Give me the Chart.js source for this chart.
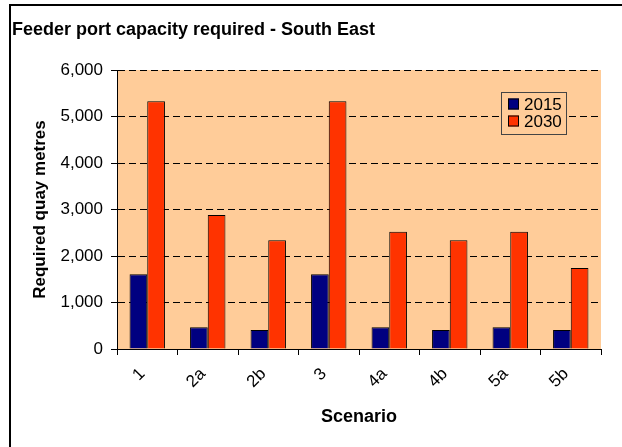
<!DOCTYPE html>
<html>
<head>
<meta charset="utf-8">
<script src="https://cdn.jsdelivr.net/npm/chart.js@4.4.1/dist/chart.umd.min.js"></script>
<style>
  html, body { margin: 0; padding: 0; background: #fff; }
  #wrap { width: 622px; height: 447px; position: relative; }
</style>
</head>
<body>
<div id="wrap"><canvas id="chart" width="622" height="447"></canvas></div>
<script>
// Required quay length (metres) per scenario
const scenarios = ['1', '2a', '2b', '3', '4a', '4b', '5a', '5b'];
const quay2015 = [1610, 470, 410, 1610, 470, 410, 470, 410];
const quay2030 = [5330, 2880, 2340, 5330, 2520, 2340, 2520, 1740];
const seriesNames = ['2015', '2030'];
const yMax = 6000;
const yStep = 1000;

const FONT = "'Liberation Sans', Arial, Helvetica, sans-serif";
const PLOT_BG = '#FFCC99';

// White page, peach plot area and the outer frame lines
const plotBackground = {
  id: 'plotBackground',
  beforeDraw(chart) {
    const { ctx, chartArea: a } = chart;
    ctx.save();
    ctx.fillStyle = '#ffffff';
    ctx.fillRect(0, 0, chart.width, chart.height);
    ctx.fillStyle = PLOT_BG;
    ctx.fillRect(a.left, a.top, a.right - a.left, a.bottom - a.top);
    ctx.strokeStyle = '#000';
    ctx.lineWidth = 2;
    ctx.beginPath();
    ctx.moveTo(10, chart.height);
    ctx.lineTo(10, 5);
    ctx.lineTo(chart.width, 5);
    ctx.stroke();
    ctx.restore();
  }
};

// Boxed legend placed inside the plot area, top right
const insideLegend = {
  id: 'insideLegend',
  afterDraw(chart) {
    const { ctx, chartArea: a } = chart;
    const boxW = 65, boxH = 42;
    const x = a.right - 35 - boxW;
    const y = a.top + 22;
    ctx.save();
    ctx.fillStyle = PLOT_BG;
    ctx.fillRect(x, y, boxW, boxH);
    ctx.strokeStyle = '#444';
    ctx.lineWidth = 1;
    ctx.strokeRect(x + 0.5, y + 0.5, boxW, boxH);
    ctx.font = '17px ' + FONT;
    ctx.textBaseline = 'middle';
    ctx.textAlign = 'left';
    chart.data.datasets.forEach((ds, i) => {
      const cy = y + 12 + i * 17;
      ctx.fillStyle = ds.backgroundColor;
      ctx.fillRect(x + 7, cy - 5.5, 11, 11);
      ctx.strokeStyle = '#000';
      ctx.strokeRect(x + 7.5, cy - 5, 10, 10);
      ctx.fillStyle = '#000';
      ctx.fillText(ds.label, x + 23, cy + 1);
    });
    ctx.restore();
  }
};

new Chart(document.getElementById('chart'), {
  type: 'bar',
  data: {
    labels: scenarios,
    datasets: [
      {
        label: seriesNames[0],
        data: quay2015,
        backgroundColor: '#000080',
        borderColor: '#000',
        borderWidth: 1,
        categoryPercentage: 0.585,
        barPercentage: 1.0
      },
      {
        label: seriesNames[1],
        data: quay2030,
        backgroundColor: '#FF3300',
        borderColor: '#000',
        borderWidth: 1,
        categoryPercentage: 0.585,
        barPercentage: 1.0
      }
    ]
  },
  options: {
    responsive: false,
    animation: false,
    devicePixelRatio: 1,
    events: [],
    layout: { padding: { left: 12, right: 21, top: 0, bottom: 0 } },
    plugins: {
      legend: { display: false },
      tooltip: { enabled: false },
      title: {
        display: true,
        text: 'Feeder port capacity required - South East',
        align: 'start',
        color: '#000',
        font: { family: FONT, size: 18, weight: 'bold' },
        padding: { top: 19.5, bottom: 28.9 }
      }
    },
    scales: {
      x: {
        offset: true,
        grid: {
          display: true,
          drawOnChartArea: false,
          drawTicks: true,
          tickLength: 6,
          color: '#000',
          offset: true
        },
        border: { display: true, color: '#000', width: 1 },
        ticks: {
          minRotation: 45,
          maxRotation: 45,
          color: '#000',
          font: { family: FONT, size: 17 },
          padding: 9,
          labelOffset: -5
        },
        title: {
          display: true,
          text: 'Scenario',
          color: '#000',
          font: { family: FONT, size: 18, weight: 'bold' },
          padding: { top: 0, bottom: 19 }
        },
        afterFit(scale) { scale.height = 98; }
      },
      y: {
        min: 0,
        max: yMax,
        grid: {
          color: '#000',
          lineWidth: 1,
          tickBorderDash: [],
          tickLength: 6,
          drawTicks: true
        },
        border: { display: true, color: '#000', width: 1, dash: [7, 4] },
        ticks: {
          stepSize: yStep,
          color: '#000',
          font: { family: FONT, size: 17 },
          padding: 8,
          callback: (v) => Number(v).toLocaleString('en-US')
        },
        title: {
          display: true,
          text: 'Required quay metres',
          color: '#000',
          font: { family: FONT, size: 17, weight: 'bold' },
          padding: { top: 18, bottom: 0 }
        },
        afterFit(scale) { scale.width = 105; }
      }
    }
  },
  plugins: [plotBackground, insideLegend]
});
</script>
</body>
</html>
